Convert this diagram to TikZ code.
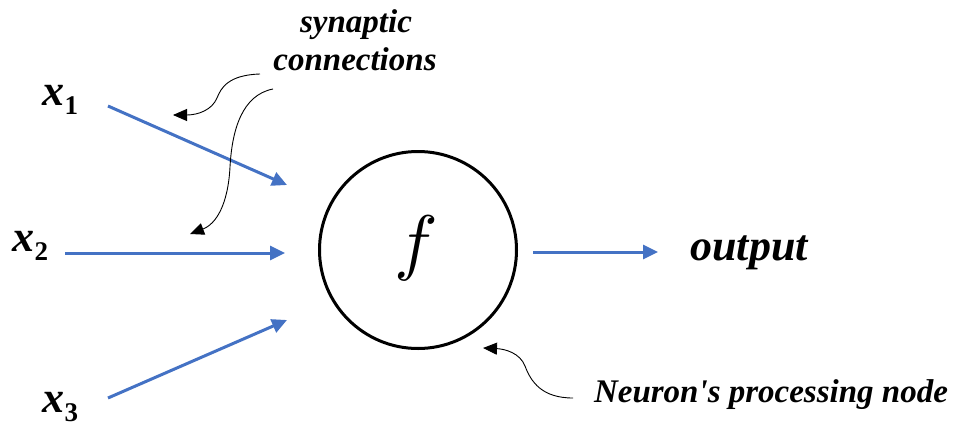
\documentclass[tikz,border=0pt]{standalone}
\usepackage{fontspec}
\usepackage{unicode-math}
\setmainfont{Liberation Serif}
\setmathfont{Latin Modern Math}
\usetikzlibrary{arrows.meta}
\definecolor{arrowblue}{HTML}{4472C4}
\newcommand{\xlab}[1]{{\bfseries\itshape\fontsize{44}{50}\selectfont x\kern0.5pt\raisebox{-9pt}{\upshape\fontsize{27}{30}\selectfont #1}}}
\begin{document}
\begin{tikzpicture}[x=1pt,y=-1pt,
  inarrow/.style={arrowblue,line width=3pt,-{Triangle[length=15pt,width=14pt]}},
  callout/.style={black,line width=0.9pt,-{Triangle[length=14pt,width=12pt]}},
  lab/.style={font=\bfseries\itshape\fontsize{33}{36}\selectfont,inner sep=0pt,anchor=base}]
\useasboundingbox (0,0) rectangle (956,426);
\node[circle,draw,line width=3pt,minimum size=197pt,inner sep=0pt] (neuron) at (418,250) {};
\node[inner sep=0pt] (f) at (416,248) {\fontsize{73}{80}\selectfont$f$};
% input labels
\node[inner sep=0pt,anchor=base west] (x1) at (42,105) {\xlab{1}};
\node[inner sep=0pt,anchor=base west] (x2) at (12,251) {\xlab{2}};
\node[inner sep=0pt,anchor=base west] (x3) at (42,412) {\xlab{3}};
% arrow coordinates
\coordinate (a1s) at (108,106);
\coordinate (a1e) at (287,185);
\coordinate (a2s) at (65,253);
\coordinate (a2e) at (285,253);
\coordinate (a3s) at (108,398);
\coordinate (a3e) at (287,320);
\coordinate (os) at (533,252);
\coordinate (oe) at (658,252);
\draw[inarrow] (a1s) -- (a1e);
\draw[inarrow] (a2s) -- (a2e);
\draw[inarrow] (a3s) -- (a3e);
\draw[inarrow] (os) -- (oe);
% texts
\node[lab,font=\bfseries\itshape\fontsize{44}{48}\selectfont] (out) at (749,260) {output};
\node[lab] (syn) at (356,32) {synaptic};
\node[lab] (con) at (355,70) {connections};
\node[lab] (proc) at (771,402) {Neuron\textquotesingle s processing node};
% callout curves
\coordinate (c1s) at (260,74);
\coordinate (c1e) at (173,115);
\coordinate (c2s) at (273,89);
\coordinate (c2e) at (190,234);
\coordinate (c3s) at (573,398);
\coordinate (c3e) at (483,348);
\draw[callout] (c1s) .. controls (228,75) and (221,88) .. (217,98) .. controls (212,110) and (198,115) .. (c1e);
\draw[callout] (c2s) .. controls (242,95) and (232,130) .. (230,167) .. controls (228,205) and (216,224) .. (c2e);
\draw[callout] (c3s) .. controls (542,398) and (531,382) .. (525,366) .. controls (520,353) and (505,349) .. (c3e);
\end{tikzpicture}
\end{document}
